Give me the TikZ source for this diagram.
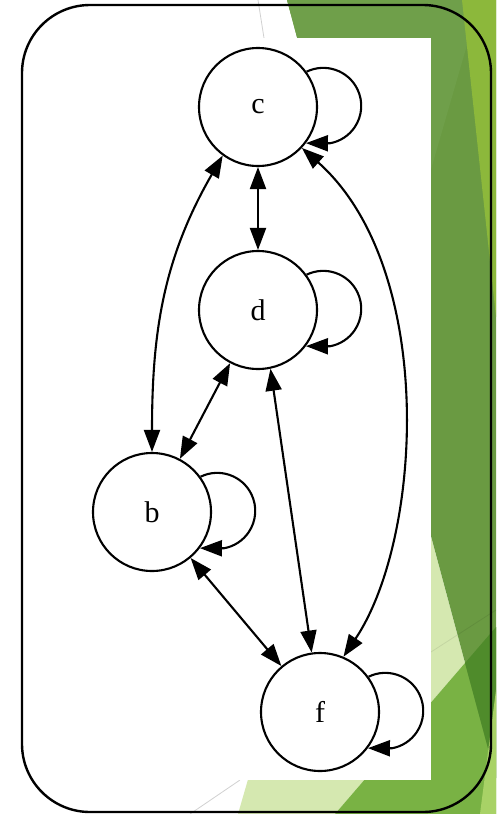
\documentclass[tikz,border=0pt]{standalone}
\usepackage{fontspec}
\setmainfont{Liberation Serif}
\usetikzlibrary{arrows.meta}
\definecolor{midgreen}{HTML}{6A9A42}
\definecolor{bandgreen}{HTML}{6F9F4A}
\definecolor{stripgreen}{HTML}{8CB83B}
\definecolor{palegreen}{HTML}{D5E8B0}
\definecolor{brightgreen}{HTML}{79B244}
\definecolor{darkgreen}{HTML}{4F8B2B}
\definecolor{lightgreen}{HTML}{A8D266}
\begin{document}
\begin{tikzpicture}[x=1pt,y=1pt,
  vtx/.style={circle,draw,line width=2.1pt,minimum size=118pt,inner sep=0pt,
    font=\fontsize{30}{30}\selectfont},
  edge/.style={line width=2.1pt},
  both/.style={edge,{Triangle[length=22pt,width=16pt]}-{Triangle[length=22pt,width=16pt]}},
  one/.style={edge,-{Triangle[length=22pt,width=16pt]}},
  thinline/.style={line width=0.8pt,black!18}]
\useasboundingbox (0,0) rectangle (496,-814);
% slide background
\fill[white] (0,0) rectangle (496,-814);
\fill[palegreen] (238,-814) -- (300,-600) -- (420,-496) -- (465,-663) -- (335,-814) -- cycle;
\fill[brightgreen] (335,-814) -- (496,-627) -- (496,-814) -- cycle;
\fill[midgreen] (287,0) -- (496,0) -- (496,-778) -- cycle;
\fill[bandgreen] (287,0) -- (480,0) -- (380,-346) -- cycle;
\fill[darkgreen] (465,-663) -- (496,-627) -- (496,-778) -- cycle;
\fill[stripgreen] (462,0) -- (496,0) -- (496,-317) -- cycle;
\fill[lightgreen] (480,-814) -- (496,-690) -- (496,-814) -- cycle;
\draw[line width=0.8pt,black,opacity=0.08] (400,-672) -- (496,-610);
\draw[thinline] (258,0) -- (264,-38);
\draw[thinline] (240,-780) -- (190,-814);
% graph image
\fill[white] (35,-38) rectangle (431,-780);
% frame
\draw[line width=2.4pt,rounded corners=68pt] (22,-5) rectangle (491,-812);
% nodes
\node[vtx] (c) at (258,-107) {c};
\node[vtx] (d) at (258,-310) {d};
\node[vtx] (b) at (152,-512) {b};
\node[vtx] (f) at (320,-712) {f};
% edges
\draw[both] (c) -- (d);
\draw[both] (d) -- (b);
\draw[both] (b) -- (f);
\draw[both] (d.-78) -- (f.98);
\draw[both] (c.234) to[out=240,in=90] (b.90);
\draw[both] (c.-43) .. controls (437,-268) and (423,-538) .. (f.67);
% self loops
\draw[one] (c.36) arc[start angle=116,end angle=-80,radius=38pt] -- (c.-37);
\draw[one] (d.36) arc[start angle=116,end angle=-80,radius=38pt] -- (d.-37);
\draw[one] (b.36) arc[start angle=116,end angle=-80,radius=38pt] -- (b.-37);
\draw[one] (f.36) arc[start angle=116,end angle=-80,radius=38pt] -- (f.-37);
\end{tikzpicture}
\end{document}
